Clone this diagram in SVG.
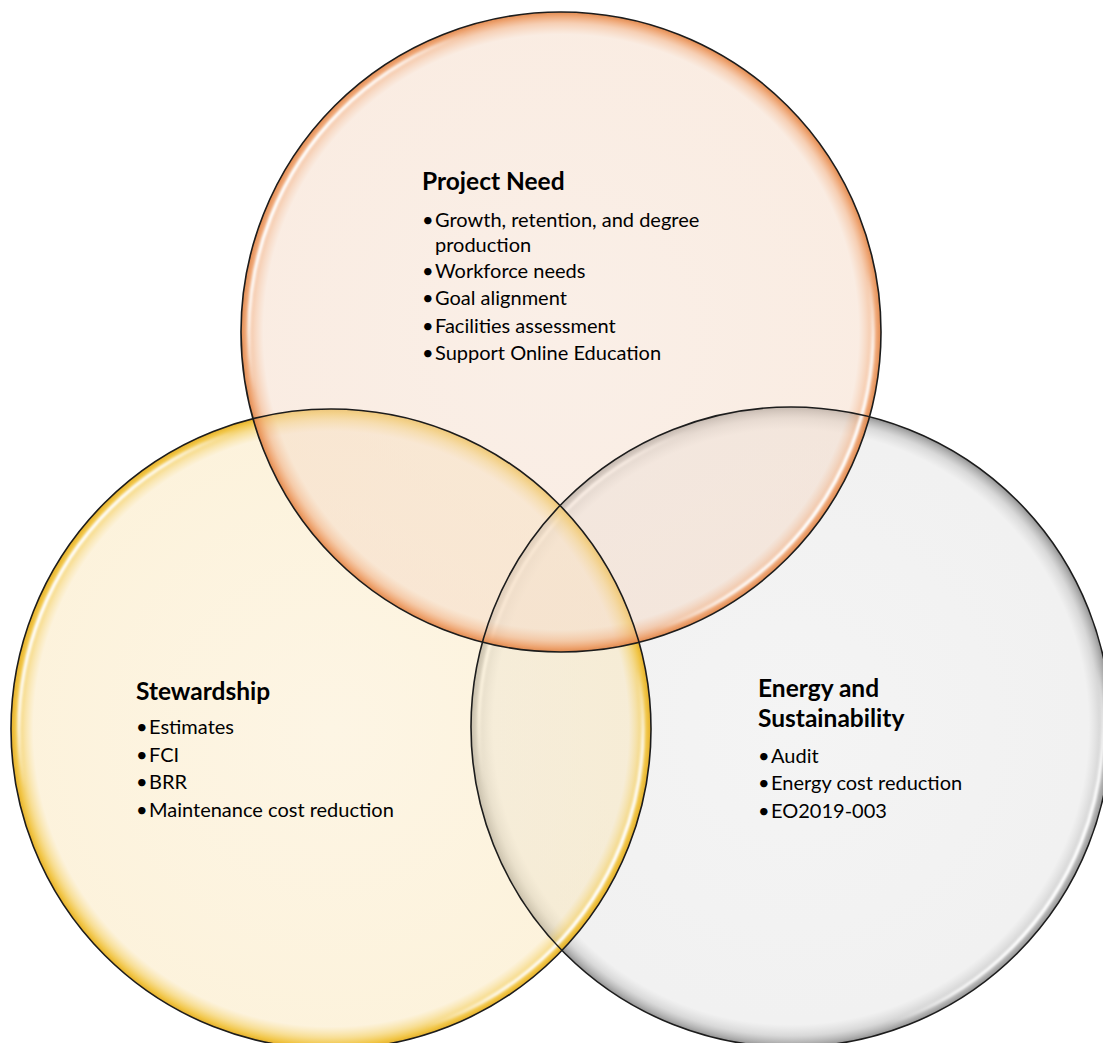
<svg xmlns="http://www.w3.org/2000/svg" width="1103" height="1043" viewBox="0 0 1103 1043">
<style>
.outline{fill:none;stroke:#1c1c1c;stroke-width:1.6}
.gloss{fill:none;stroke:url(#glossGrad);stroke-width:3.5;filter:url(#soft)}
.title{font-family:Lato,"Open Sans","Liberation Sans",sans-serif;font-weight:bold;font-size:24.5px;fill:#000}
.item{font-family:Lato,"Open Sans","Liberation Sans",sans-serif;font-size:20px;fill:#000}
</style>
<defs>
<radialGradient id="gTop" cx="0.5" cy="0.5" r="0.5">
<stop offset="0" stop-color="#F5DFCF" stop-opacity="0.5"/>
<stop offset="0.93" stop-color="#F5DBC8" stop-opacity="0.52"/>
<stop offset="0.965" stop-color="#F2B890" stop-opacity="0.68"/>
<stop offset="0.988" stop-color="#EC985F" stop-opacity="0.88"/>
<stop offset="1" stop-color="#DE8448" stop-opacity="0.95"/>
</radialGradient>
<radialGradient id="gLeft" cx="0.5" cy="0.5" r="0.5">
<stop offset="0" stop-color="#FBEBC9" stop-opacity="0.5"/>
<stop offset="0.93" stop-color="#FAE7BC" stop-opacity="0.52"/>
<stop offset="0.965" stop-color="#F5D370" stop-opacity="0.75"/>
<stop offset="0.988" stop-color="#F0C035" stop-opacity="0.92"/>
<stop offset="1" stop-color="#E2AA1E" stop-opacity="0.95"/>
</radialGradient>
<radialGradient id="gRight" cx="0.5" cy="0.5" r="0.5">
<stop offset="0" stop-color="#E9E9E9" stop-opacity="0.5"/>
<stop offset="0.93" stop-color="#E4E4E4" stop-opacity="0.52"/>
<stop offset="0.965" stop-color="#C4C4C4" stop-opacity="0.65"/>
<stop offset="0.988" stop-color="#A2A2A2" stop-opacity="0.85"/>
<stop offset="1" stop-color="#8C8C8C" stop-opacity="0.95"/>
</radialGradient>
<linearGradient id="glossGrad" x1="0.075" y1="0.25" x2="0.925" y2="0.75">
<stop offset="0" stop-color="#fff" stop-opacity="1"/>
<stop offset="0.05" stop-color="#fff" stop-opacity="0.8"/>
<stop offset="0.12" stop-color="#fff" stop-opacity="0"/>
<stop offset="0.88" stop-color="#fff" stop-opacity="0"/>
<stop offset="0.95" stop-color="#fff" stop-opacity="0.8"/>
<stop offset="1" stop-color="#fff" stop-opacity="1"/>
</linearGradient>
<filter id="soft" x="-0.1" y="-0.1" width="1.2" height="1.2">
<feGaussianBlur stdDeviation="1.2"/>
</filter>
</defs>
<rect width="1103" height="1043" fill="#fff"/>
<g id="node-energy">
<circle cx="791" cy="727" r="320" fill="url(#gRight)"/>
<circle class="gloss" cx="791" cy="727" r="312"/>
<text class="title" x="758" y="697">Energy and</text>
<text class="title" x="758" y="726.5">Sustainability</text>
<text class="item" x="758" y="763">•</text><text class="item" x="771" y="763">Audit</text>
<text class="item" x="758" y="790">•</text><text class="item" x="771" y="790">Energy cost reduction</text>
<text class="item" x="758" y="817.5">•</text><text class="item" x="771" y="817.5">EO2019-003</text>
</g>
<g id="node-stewardship">
<circle cx="331" cy="729" r="320" fill="url(#gLeft)"/>
<circle class="gloss" cx="331" cy="729" r="312"/>
<text class="title" x="136" y="700">Stewardship</text>
<text class="item" x="136" y="734">•</text><text class="item" x="149" y="734">Estimates</text>
<text class="item" x="136" y="761.5">•</text><text class="item" x="149" y="761.5">FCI</text>
<text class="item" x="136" y="789">•</text><text class="item" x="149" y="789">BRR</text>
<text class="item" x="136" y="816.5">•</text><text class="item" x="149" y="816.5">Maintenance cost reduction</text>
</g>
<g id="node-project-need">
<circle cx="561" cy="332" r="320" fill="url(#gTop)"/>
<circle class="gloss" cx="561" cy="332" r="312"/>
<text class="title" x="422" y="190">Project Need</text>
<text class="item" x="422" y="227">•</text><text class="item" x="435" y="227">Growth, retention, and degree</text>
<text class="item" x="435" y="251.5">production</text>
<text class="item" x="422" y="277.5">•</text><text class="item" x="435" y="277.5">Workforce needs</text>
<text class="item" x="422" y="305">•</text><text class="item" x="435" y="305">Goal alignment</text>
<text class="item" x="422" y="332.5">•</text><text class="item" x="435" y="332.5">Facilities assessment</text>
<text class="item" x="422" y="360">•</text><text class="item" x="435" y="360">Support Online Education</text>
</g>
<g id="outlines">
<circle class="outline" cx="791" cy="727" r="320"/>
<circle class="outline" cx="331" cy="729" r="320"/>
<circle class="outline" cx="561" cy="332" r="320"/>
</g>
</svg>
